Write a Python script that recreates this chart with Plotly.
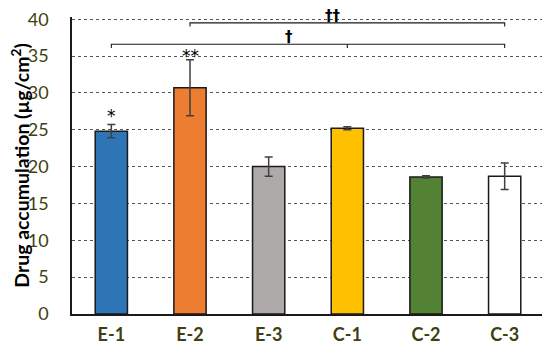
import plotly.graph_objects as go

categories = ["E-1", "E-2", "E-3", "C-1", "C-2", "C-3"]
values = [24.8, 30.7, 20.0, 25.2, 18.6, 18.7]
errors = [0.9, 3.8, 1.3, 0.2, 0.15, 1.8]
colors = ["#2E75B6", "#ED7D31", "#AEAAAA", "#FFC000", "#548235", "#FFFFFF"]
y_ticks = [0, 5, 10, 15, 20, 25, 30, 35, 40]

# significance markers above bars
star_cats = ["E-1", "E-2"]
star_text = ["*", "**"]
star_y = [25.2, 33.4]

# brackets: (start index, end index, y level, symbol, symbol x position, mid tick index)
bracket_start = [0, 1]
bracket_end = [5, 5]
bracket_y = [36.6, 39.5]
bracket_sym = ["†", "††"]
bracket_sym_x = [2.26, 2.82]
bracket_mid = [3, None]

fig = go.Figure()
fig.add_trace(go.Bar(
    x=categories, y=values,
    marker=dict(color=colors, line=dict(color="#1a1a1a", width=1.5)),
    error_y=dict(type="data", array=errors, color="#404040", thickness=1.5, width=4),
    width=0.41,
))

axis_font = dict(family="Lato, Open Sans, sans-serif", size=18, color="#3f3f10")

for c, t, y in zip(star_cats, star_text, star_y):
    fig.add_annotation(x=c, y=y, text=t, showarrow=False,
                       font=dict(family="DejaVu Sans, sans-serif", size=17, color="#000000"),
                       yanchor="bottom")

leg = 0.5
for s, e, y, sym, sx, m in zip(bracket_start, bracket_end, bracket_y, bracket_sym, bracket_sym_x, bracket_mid):
    fig.add_shape(type="path",
                  path=f"M {s} {y-leg} L {s} {y} L {e} {y} L {e} {y-leg}",
                  xref="x", yref="y", line=dict(color="#1a1a1a", width=1.1))
    if m is not None:
        fig.add_shape(type="line", x0=m, x1=m, y0=y, y1=y-leg,
                      xref="x", yref="y", line=dict(color="#1a1a1a", width=1.1))
    fig.add_annotation(x=sx, y=y, text=f"<b>{sym}</b>", showarrow=False, yanchor="bottom",
                       font=dict(family="DejaVu Sans, sans-serif", size=15, color="#000000"),
                       yshift=-4)

# page body has an 8px margin, so the figure is sized to fit the 550x355 window
fig.update_layout(
    width=542, height=347,
    margin=dict(l=64, r=6, t=9, b=41, autoexpand=False),
    plot_bgcolor="white", paper_bgcolor="white",
    showlegend=False,
    bargap=0.59,
)
fig.update_yaxes(
    range=[0, 40.3], tickvals=y_ticks, showgrid=True, gridcolor="#555555",
    griddash="dot", gridwidth=1, automargin=False, ticklabeloverflow="allow",
    showline=True, linecolor="#1a1a1a", linewidth=1.5,
    tickfont=axis_font, ticks="", zeroline=False, ticklabelstandoff=18,
    title=dict(text="<b>Drug accumulation (µg/cm<sup>2</sup>)</b>",
               font=dict(family="Lato, Open Sans, sans-serif", size=19.5, color="#000"),
               standoff=6),
)
fig.update_xaxes(
    showline=True, linecolor="#1a1a1a", linewidth=1.5, automargin=False,
    tickfont=dict(family="Lato, Open Sans, sans-serif", size=18, color="#3f3f10", weight="bold"),
    ticks="", ticklabelstandoff=4,
)

fig.write_html("out.html")
